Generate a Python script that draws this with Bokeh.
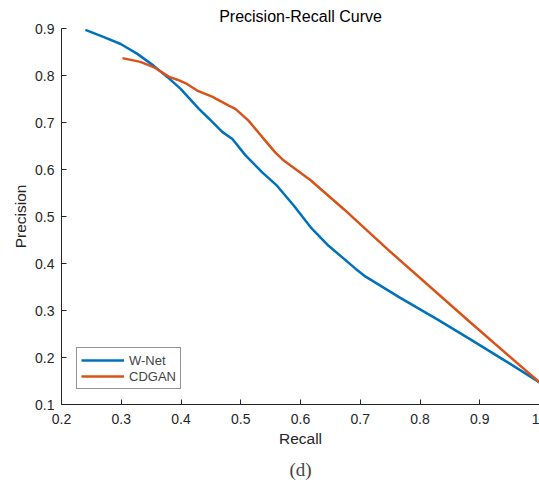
from bokeh.plotting import figure
from bokeh.models import Range1d, FixedTicker, NumeralTickFormatter, Legend, LegendItem, Title
from bokeh.embed import file_html
from bokeh.resources import INLINE

# W-Net precision-recall curve
wnet_recall = [0.240, 0.270, 0.299, 0.327, 0.354, 0.377, 0.399, 0.430, 0.447, 0.469,
               0.486, 0.508, 0.536, 0.561, 0.589, 0.617, 0.645, 0.692, 0.709, 0.767,
               0.829, 0.885, 0.940, 1.0]
wnet_precision = [0.897, 0.882, 0.867, 0.846, 0.821, 0.797, 0.772, 0.729, 0.708, 0.680,
                  0.665, 0.630, 0.594, 0.565, 0.523, 0.477, 0.440, 0.389, 0.372, 0.327,
                  0.281, 0.238, 0.195, 0.147]

# CDGAN precision-recall curve
cdgan_recall = [0.302, 0.332, 0.354, 0.368, 0.380, 0.394, 0.410, 0.427, 0.452, 0.480,
                0.491, 0.513, 0.536, 0.558, 0.572, 0.617, 0.673, 0.745, 0.884, 1.0]
cdgan_precision = [0.837, 0.829, 0.818, 0.807, 0.797, 0.791, 0.782, 0.768, 0.755, 0.736,
                   0.729, 0.704, 0.669, 0.636, 0.619, 0.577, 0.515, 0.431, 0.275, 0.147]

x_ticks = [0.2, 0.3, 0.4, 0.5, 0.6, 0.7, 0.8, 0.9, 1.0]
y_ticks = [0.1, 0.2, 0.3, 0.4, 0.5, 0.6, 0.7, 0.8, 0.9]

FONT = "Liberation Sans"
AX = "#262626"

p = figure(width=539, height=487, output_backend="svg", toolbar_location=None,
           x_range=Range1d(0.2, 1.0), y_range=Range1d(0.1, 0.9),
           min_border_left=61, min_border_right=0, min_border_top=28, min_border_bottom=83)

p.title.text = "Precision-Recall Curve"
p.title.align = "center"
p.title.text_font = FONT
p.title.text_font_size = "16px"
p.title.text_font_style = "normal"
p.title.text_color = "#000000"
p.title.standoff = 7

p.outline_line_color = None
p.xgrid.visible = False
p.ygrid.visible = False
p.background_fill_color = "white"
p.border_fill_color = "white"

for ax, ticks in ((p.xaxis[0], x_ticks), (p.yaxis[0], y_ticks)):
    ax.ticker = FixedTicker(ticks=ticks)
    ax.formatter = NumeralTickFormatter(format="0.[0]")
    ax.major_tick_in = 5
    ax.major_tick_out = 0
    ax.minor_tick_line_color = None
    ax.axis_line_color = AX
    ax.major_tick_line_color = AX
    ax.major_label_text_color = AX
    ax.major_label_text_font = FONT
    ax.major_label_text_font_size = "14px"
    ax.axis_label_text_font = FONT
    ax.axis_label_text_font_size = "15.5px"
    ax.axis_label_text_font_style = "normal"
    ax.axis_label_text_color = AX

p.xaxis.axis_label = "Recall"
p.yaxis.axis_label = "Precision"
p.xaxis.major_label_standoff = 9
p.xaxis.axis_label_standoff = 3
p.yaxis.major_label_standoff = 7
p.yaxis.axis_label_standoff = 3

r1 = p.line(wnet_recall, wnet_precision, line_color="#0072BD", line_width=2.5)
r2 = p.line(cdgan_recall, cdgan_precision, line_color="#D95319", line_width=2.5)

legend = Legend(items=[LegendItem(label="W-Net", renderers=[r1]),
                       LegendItem(label="CDGAN", renderers=[r2])],
                location=(15, 15), padding=4, spacing=0, margin=0,
                glyph_width=43, glyph_height=16, label_height=16, label_standoff=5,
                label_text_font=FONT, label_text_font_size="13px",
                border_line_color="#262626", border_line_width=1,
                background_fill_color="white", background_fill_alpha=1)
p.add_layout(legend, "center")

cap = Title(text="(d)", align="center", text_font="Liberation Serif",
            text_font_size="19px", text_font_style="normal", standoff=14, offset=-7)
p.add_layout(cap, "below")

open("out.html", "w").write(file_html(p, INLINE))
